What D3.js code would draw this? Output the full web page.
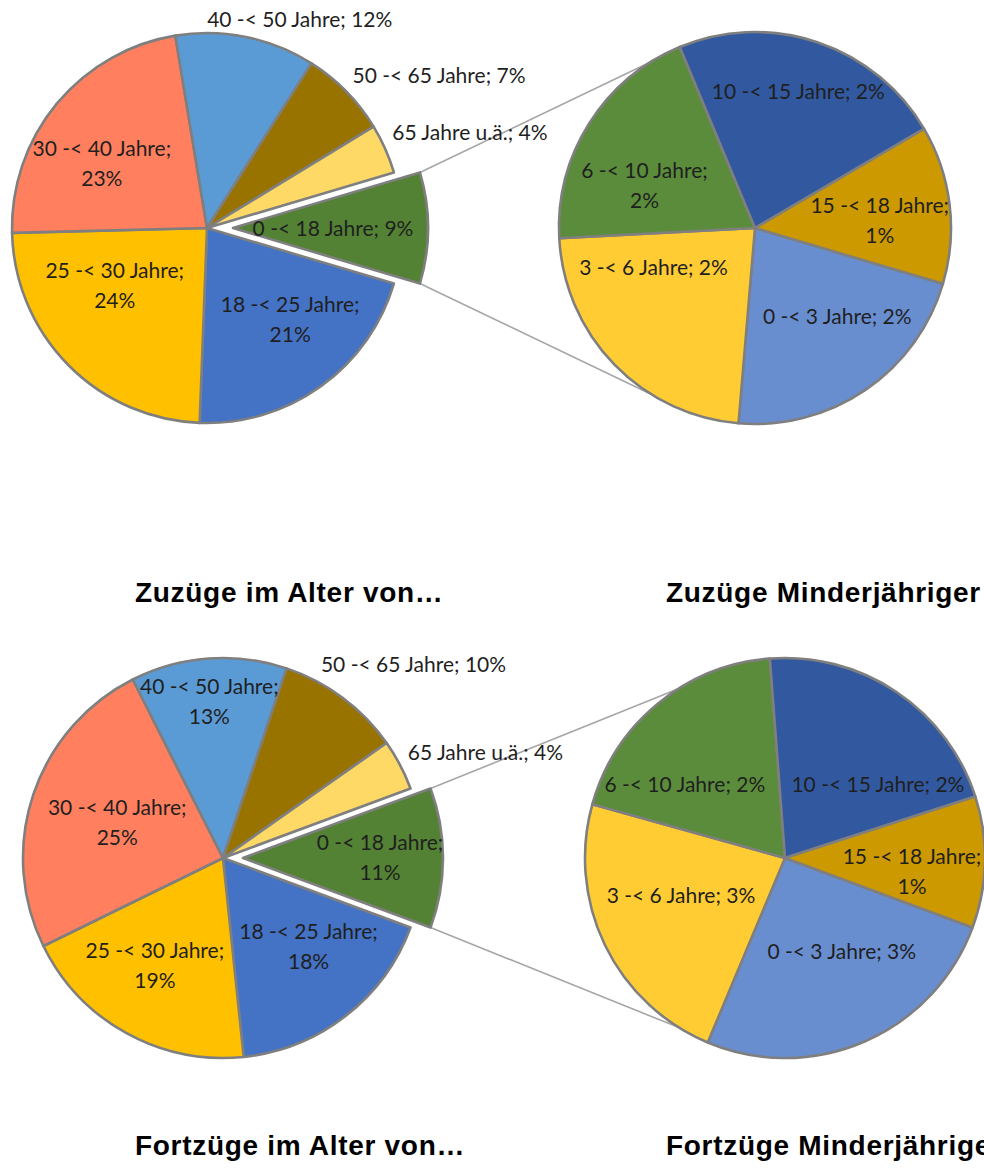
<!DOCTYPE html>
<html>
<head>
<meta charset="utf-8">
<script src="https://cdn.jsdelivr.net/npm/d3@7"></script>
<style>
  body { margin: 0; background: #fff; }
  svg { display: block; }
  .lbl { font-family: Lato, "Noto Sans", sans-serif; font-size: 21px; fill: #1f1f1f; }
  .titel { font-family: "Liberation Sans", Arial, sans-serif; font-weight: bold; font-size: 28px; letter-spacing: 0.7px; fill: #000; }
</style>
</head>
<body>
<div id="chart"></div>
<script>
// Altersgruppen (Hauptkreis), erster Wert = abgespaltenes Segment
var alterGruppen = ["0 -< 18 Jahre", "18 -< 25 Jahre", "25 -< 30 Jahre", "30 -< 40 Jahre",
                    "40 -< 50 Jahre", "50 -< 65 Jahre", "65 Jahre u.ä."];
var minderGruppen = ["0 -< 3 Jahre", "3 -< 6 Jahre", "6 -< 10 Jahre", "10 -< 15 Jahre", "15 -< 18 Jahre"];

// Anteile in %
var zuzuegeAlter  = [9.2, 21.0, 24.0, 22.8, 11.6, 7.3, 4.1];
var zuzuegeMinder = [2.0, 2.1, 1.8, 2.1, 1.2];
var fortzuegeAlter  = [11.3, 17.7, 19.4, 24.8, 12.6, 10.1, 4.1];
var fortzuegeMinder = [2.9, 2.6, 2.2, 2.4, 1.2];

var titelZu   = ["Zuzüge im Alter von…", "Zuzüge Minderjähriger"];
var titelFort = ["Fortzüge im Alter von…", "Fortzüge Minderjähriger"];

var farbenAlter  = ["#548235", "#4472C4", "#FFC000", "#FF7F5E", "#5B9BD5", "#997300", "#FFD966"];
var farbenMinder = ["#698ED0", "#FFCD33", "#5B8C3B", "#32599F", "#CC9900"];

// Beschriftungs-Layout: [radius-faktor, dx, dy, umbruch]
var lblZuAlter = [[0.6,-17,1,false],[0.6,15,-3,true],[0.6,-9,-25,true],[0.6,-15,10,true],
                  [1.2,46,21,false],[1.2,65,12,false],[1.2,49,0,false]];
var lblZuMinder = [[0.6,16,-8,false],[0.6,-17,-42,false],[0.6,-11,20,true],[0.6,6,-25,false],[0.6,8,7,true]];
var lblFortAlter = [[0.6,17,0,true],[0.6,12,-6,true],[0.6,-10,3,true],[0.6,8,3,true],
                    [0.6,-5,-37,true],[1.2,47,-1,false],[1.2,50,6,false]];
var lblFortMinder = [[0.6,9,-16,false],[0.6,4,-15,false],[0.6,-24,19,false],[0.6,26,26,false],[0.6,7,11,true]];

var W = 984, H = 1176;
var svg = d3.select("#chart").append("svg").attr("width", W).attr("height", H);

function prozent(v){ return Math.round(v) + "%"; }

function zeichneLabels(g, arcs, namen, werte, layout, r, offsets){
    arcs.forEach(function(a, i){
        var mid = (a.startAngle + a.endAngle) / 2;
        var L = layout[i];
        var off = offsets ? offsets[i] : [0,0];
        var x = off[0] + Math.sin(mid) * r * L[0] + L[1];
        var y = off[1] - Math.cos(mid) * r * L[0] + L[2];
        var t = g.append("text").attr("class", "lbl").attr("text-anchor", "middle")
            .attr("transform", "translate(" + x + "," + y + ")");
        if (L[3]) {
            t.append("tspan").attr("x", 0).attr("y", -15).attr("dy", "0.35em").text(namen[i] + ";");
            t.append("tspan").attr("x", 0).attr("y", 15).attr("dy", "0.35em").text(prozent(werte[i]));
        } else {
            t.append("tspan").attr("x", 0).attr("y", 0).attr("dy", "0.35em").text(namen[i] + "; " + prozent(werte[i]));
        }
    });
}

function panel(cfg){
    var a0 = Math.PI / 2 - Math.PI * cfg.haupt[0] / d3.sum(cfg.haupt);
    var pieHaupt = d3.pie().sort(null).value(function(d){ return d; })
        .startAngle(a0).endAngle(a0 + 2 * Math.PI);
    var arcsH = pieHaupt(cfg.haupt);

    // Sekundärkreis beginnt am Ende des abgespaltenen Segments
    var b0 = arcsH[0].endAngle;
    var pieSub = d3.pie().sort(null).value(function(d){ return d; })
        .startAngle(b0).endAngle(b0 + 2 * Math.PI);
    var arcsS = pieSub(cfg.sub);

    var arcH = d3.arc().innerRadius(0).outerRadius(cfg.r);
    var arcS = d3.arc().innerRadius(0).outerRadius(cfg.rSub);

    // Explosion des ersten Segments
    var midG = (arcsH[0].startAngle + arcsH[0].endAngle) / 2;
    var ex = [Math.sin(midG) * cfg.explode, -Math.cos(midG) * cfg.explode];

    // Verbindungslinien
    var gl = svg.append("g");
    var p1 = [cfg.cx + ex[0] + Math.sin(arcsH[0].startAngle) * cfg.r, cfg.cy + ex[1] - Math.cos(arcsH[0].startAngle) * cfg.r];
    var p2 = [cfg.cx + ex[0] + Math.sin(arcsH[0].endAngle) * cfg.r, cfg.cy + ex[1] - Math.cos(arcsH[0].endAngle) * cfg.r];
    var wOben = -32 * Math.PI / 180, wUnten = 212 * Math.PI / 180;
    var q1 = [cfg.sx + Math.sin(wOben) * cfg.rSub, cfg.cy - Math.cos(wOben) * cfg.rSub];
    var q2 = [cfg.sx + Math.sin(wUnten) * cfg.rSub, cfg.cy - Math.cos(wUnten) * cfg.rSub];
    [[p1, q1], [p2, q2]].forEach(function(l){
        gl.append("line").attr("x1", l[0][0]).attr("y1", l[0][1]).attr("x2", l[1][0]).attr("y2", l[1][1])
            .attr("stroke", "#a6a6a6").attr("stroke-width", 1.6);
    });

    // Hauptkreis
    var gh = svg.append("g").attr("transform", "translate(" + cfg.cx + "," + cfg.cy + ")");
    gh.selectAll("path").data(arcsH).enter().append("path")
        .attr("d", arcH)
        .attr("transform", function(d, i){ return i === 0 ? "translate(" + ex[0] + "," + ex[1] + ")" : null; })
        .attr("fill", function(d, i){ return farbenAlter[i]; })
        .attr("stroke", "#7f7f7f").attr("stroke-width", 2.6).attr("stroke-linejoin", "round");
    var offH = arcsH.map(function(d, i){ return i === 0 ? ex : [0, 0]; });
    zeichneLabels(gh, arcsH, alterGruppen, cfg.haupt, cfg.lblHaupt, cfg.r, offH);

    // Sekundärkreis
    var gs = svg.append("g").attr("transform", "translate(" + cfg.sx + "," + cfg.cy + ")");
    gs.selectAll("path").data(arcsS).enter().append("path")
        .attr("d", arcS)
        .attr("fill", function(d, i){ return farbenMinder[i]; })
        .attr("stroke", "#7f7f7f").attr("stroke-width", 2.6).attr("stroke-linejoin", "round");
    zeichneLabels(gs, arcsS, minderGruppen, cfg.sub, cfg.lblSub, cfg.rSub, null);

    // Titel
    svg.append("text").attr("class", "titel").attr("x", 135).attr("y", cfg.titelY).text(cfg.titel[0]);
    svg.append("text").attr("class", "titel").attr("x", 666).attr("y", cfg.titelY).text(cfg.titel[1]);
}

panel({ haupt: zuzuegeAlter, sub: zuzuegeMinder, cx: 207, cy: 228, r: 195, explode: 26,
        sx: 755, rSub: 196, lblHaupt: lblZuAlter, lblSub: lblZuMinder, titel: titelZu, titelY: 602 });
panel({ haupt: fortzuegeAlter, sub: fortzuegeMinder, cx: 223, cy: 858, r: 200, explode: 20,
        sx: 785, rSub: 200, lblHaupt: lblFortAlter, lblSub: lblFortMinder, titel: titelFort, titelY: 1155 });
</script>
</body>
</html>
